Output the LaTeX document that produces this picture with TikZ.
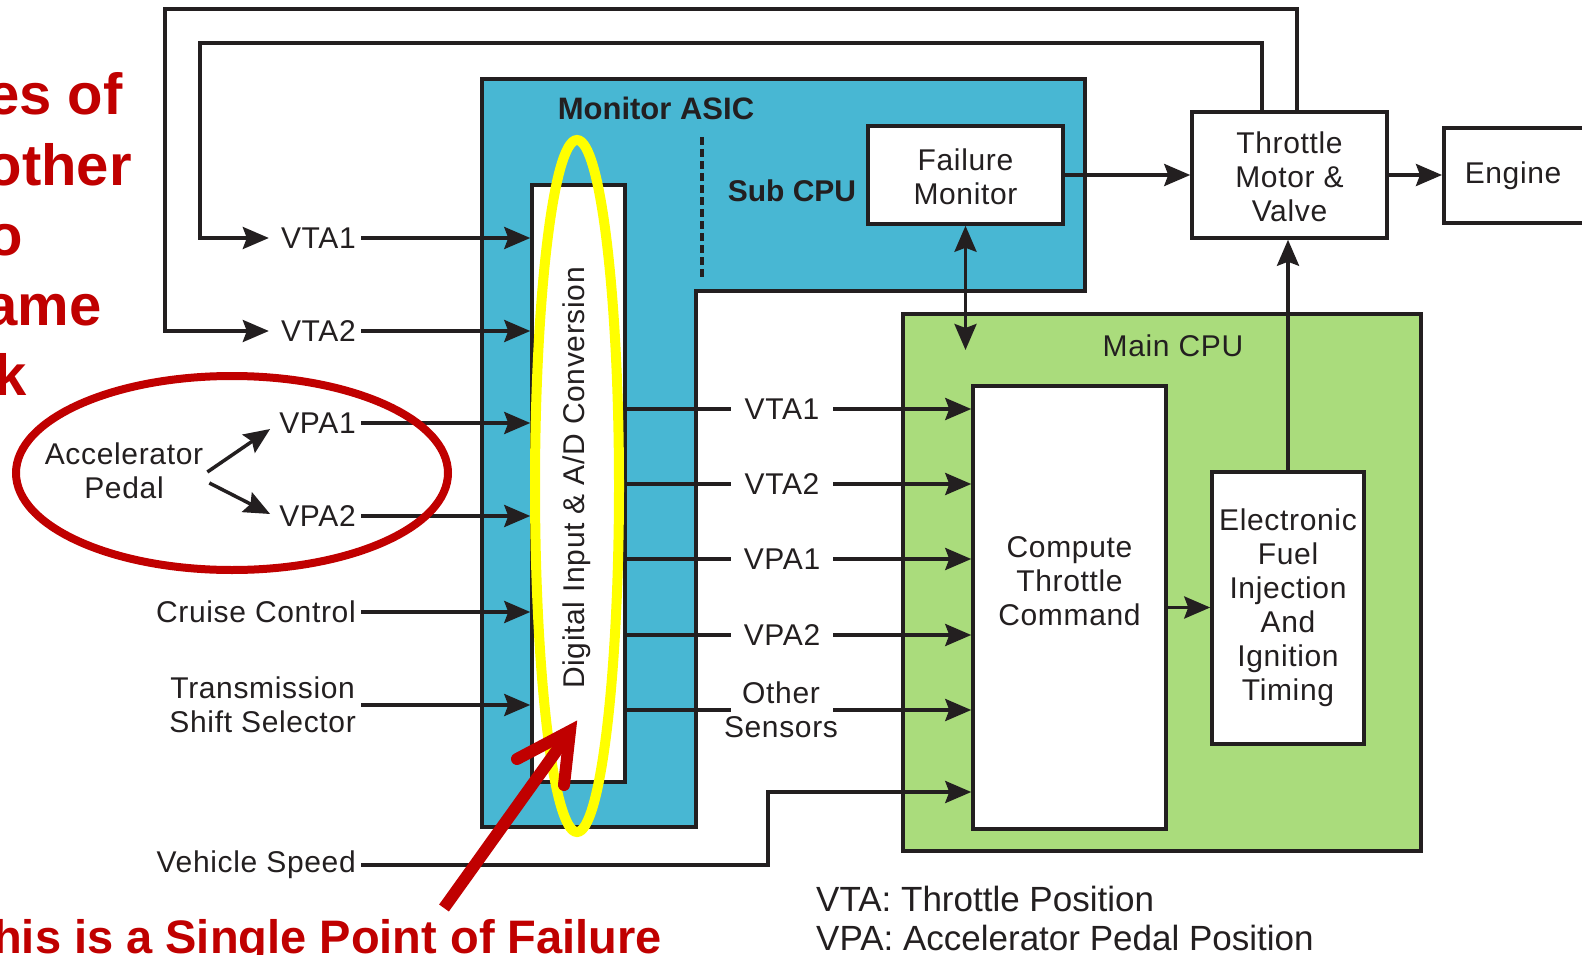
\documentclass[tikz,border=0pt]{standalone}
\usepackage{fontspec}
\setmainfont[LetterSpace=2.2]{Liberation Sans}
\newfontfamily\plainfont{Liberation Sans}
\usetikzlibrary{arrows.meta}
\definecolor{ink}{HTML}{231F20}
\definecolor{asicblue}{HTML}{48B7D3}
\definecolor{cpugreen}{HTML}{AADC7C}
\definecolor{alertred}{HTML}{C00000}
\definecolor{hiyellow}{HTML}{FFFF00}
\newcommand\fsz[2]{\fontsize{#1pt}{#2pt}\selectfont}
\begin{document}
\begin{tikzpicture}[x=1pt,y=-1pt,
  lw/.style={line width=3.5pt},
  box/.style={draw=ink, lw, fill=white, inner sep=0pt, align=center, font=\fsz{30}{34}, text=ink},
  lab/.style={inner sep=0pt, inner xsep=5pt, font=\fsz{30}{34}, text=ink, align=center},
  arr/.style={draw=ink, lw, -{Stealth[length=26pt,width=22pt,inset=4pt]}},
  dbl/.style={draw=ink, lw, {Stealth[length=26pt,width=22pt,inset=4pt]}-{Stealth[length=26pt,width=22pt,inset=4pt]}},
  wire/.style={draw=ink, lw},
  redtxt/.style={text=alertred, font=\plainfont\bfseries\fsz{58}{70}, inner sep=0pt},
]
\fill[white] (0,0) rectangle (1582,955);
\useasboundingbox (0,0) rectangle (1582,955);

% Monitor ASIC (L-shaped)
\draw[lw, draw=ink, fill=asicblue, line join=miter]
  (482,79) -- (1085,79) -- (1085,291) -- (696,291) -- (696,827) -- (482,827) -- cycle;
\node[font=\plainfont\bfseries\fsz{31}{34}, text=ink, inner sep=0pt] (asict) at (656,108) {Monitor ASIC};
\node[font=\plainfont\bfseries\fsz{30}{34}, text=ink, inner sep=0pt] (subt) at (792,191) {Sub CPU};
\draw[ink, lw, dash pattern=on 8pt off 4pt] (702,137) -- (702,279);

\node[box, minimum width=93pt, minimum height=597pt] (dig) at (578.5,483.5) {};
\node[rotate=90, font=\fsz{30}{34}, text=ink, inner sep=0pt] (digt) at (577,478) {Digital Input \& A/D Conversion};
\node[box, minimum width=195pt, minimum height=98pt, label={[lab, yshift=-2pt]center:Failure\\Monitor}] (fm) at (965.5,175) {};

% Main CPU
\node[draw=ink, lw, fill=cpugreen, minimum width=518pt, minimum height=537pt, inner sep=0pt] (mcpu) at (1162,582.5) {};
\node[lab] (mcput) at (1173,346) {Main CPU};
\node[box, minimum width=193pt, minimum height=443pt,
      label={[lab, yshift=26pt]center:Compute\\Throttle\\Command}] (comp) at (1069.5,607.5) {};
\node[box, minimum width=152pt, minimum height=272pt] (efi) at (1288,608)
  {Electronic\\Fuel\\Injection\\And\\Ignition\\Timing};

% Throttle and engine
\node[box, minimum width=195pt, minimum height=126pt,
      label={[lab, yshift=-2pt]center:Throttle\\Motor \&\\Valve}] (thr) at (1289.5,175) {};
\node[box, anchor=west, minimum height=95pt, inner xsep=21pt, text width=150pt, align=left] (eng) at (1442,175.5) {Engine};

\draw[arr] (fm.east) -- (fm.east -| thr.west);
\draw[arr] (thr.east) -- (thr.east -| eng.west);
\coordinate (fmend) at (965.5,350);
\draw[dbl] (fm.south) -- (fmend);
\draw[arr] (efi.north) -- (efi.north |- thr.south);
\draw[arr] (comp.east) -- (comp.east -| efi.west);

% Left inputs
\node[lab, anchor=east] (ivta1) at (361,238) {VTA1};
\node[lab, anchor=east] (ivta2) at (361,331) {VTA2};
\node[lab, anchor=east] (ivpa1) at (361,423) {VPA1};
\node[lab, anchor=east] (ivpa2) at (361,516) {VPA2};
\node[lab, anchor=east] (icc) at (361,612) {Cruise Control};
\node[lab, anchor=east, align=center] (itr) at (361,705) {Transmission\\Shift Selector};
\node[lab, anchor=east] (ivs) at (361,865) {Vehicle Speed};
\foreach \n in {ivta1,ivta2,ivpa1,ivpa2,icc,itr}
  \draw[arr] (\n.east) -- (\n.east -| dig.west);

% feedback loops
\coordinate (loopA) at (200,43);
\coordinate (loopB) at (165,9);
\draw[arr] ([xshift=-27.5pt]thr.north) |- (loopA) |- ([xshift=-7pt]ivta1.west);
\draw[arr] ([xshift=7.5pt]thr.north) |- (loopB) |- ([xshift=-7pt]ivta2.west);

% accelerator pedal
\node[lab] (acc) at (124,471) {Accelerator\\Pedal};
\draw[arr] ([shift={(-1pt,-1pt)}]acc.east) -- ([shift={(-4pt,-6pt)}]ivpa1.west);
\draw[arr] ([shift={(1pt,-12pt)}]acc.east) -- ([shift={(-4pt,2pt)}]ivpa2.west);

% outputs to Main CPU
\foreach \nm/\txt/\yy in {ovta1/VTA1/409, ovta2/VTA2/484, ovpa1/VPA1/559, ovpa2/VPA2/635}{
  \node[lab, minimum width=102pt] (\nm) at (782,\yy) {\txt};
  \draw[wire] (\nm.west -| dig.east) -- (\nm.west);
  \draw[arr] (\nm.east) -- (\nm.east -| comp.west);
}
\node[lab] (oos) at (781,710) {Other\\Sensors};
\draw[wire] (oos -| dig.east) -- (oos -| ovpa2.west);
\draw[arr] (oos -| ovpa2.east) -- (oos -| comp.west);

\coordinate (vsk) at (768,792);
\draw[arr] (ivs.east) -| (vsk) -- (vsk -| comp.west);

% legend
\node[anchor=base west, font=\plainfont\fsz{35}{40}, text=ink, inner sep=0pt] (leg1) at (816,911) {VTA: Throttle Position};
\node[anchor=base west, font=\plainfont\fsz{35}{40}, text=ink, inner sep=0pt] (leg2) at (816,950) {VPA: Accelerator Pedal Position};

% highlights
\draw[hiyellow, line width=10pt] (577,486) ellipse [x radius=42pt, y radius=346pt];
\draw[alertred, line width=8pt] (232,473) ellipse [x radius=216pt, y radius=97pt];
\draw[alertred, line width=12pt] (444,908) -- (570,732);
\draw[alertred, line width=12pt, line cap=round, line join=miter] (517,759) -- (570,731) -- (564,785);

% red annotations
\node[redtxt, anchor=base east] (r1) at (123,115) {es of};
\node[redtxt, anchor=base east] (r2) at (132,185) {other};
\node[redtxt, anchor=base east] (r3) at (23,255) {o};
\node[redtxt, anchor=base east] (r4) at (102,325) {ame};
\node[redtxt, anchor=base east] (r5) at (27,395) {k};
\node[redtxt, font=\plainfont\bfseries\fsz{47}{50}, anchor=base east] (rb) at (662,953) {his is a Single Point of Failure};
\end{tikzpicture}
\end{document}
